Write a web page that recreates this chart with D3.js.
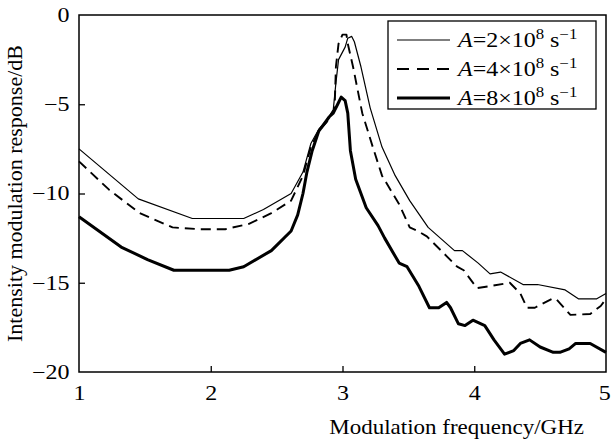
<!DOCTYPE html>
<html>
<head>
<meta charset="utf-8">
<script src="https://cdn.jsdelivr.net/npm/d3@7"></script>
<style>
  body { margin: 0; background: #fff; }
  svg text { font-family: "Liberation Serif", "Times New Roman", serif; fill: #000; }
</style>
</head>
<body>
<svg width="611" height="444"></svg>
<script>
// series A = 2e8 s^-1 (thin)
const freqA2 = [1.0,1.45,1.86,2.25,2.4,2.61,2.7,2.76,2.82,2.88,2.93,2.95,2.97,3.02,3.04,3.07,3.09,3.14,3.21,3.3,3.4,3.51,3.65,3.85,3.91,4.03,4.12,4.2,4.37,4.48,4.69,4.79,4.93,5.0];
const respA2 = [-7.5,-10.3,-11.4,-11.4,-10.9,-10.0,-8.8,-7.2,-6.4,-5.9,-5.3,-3.8,-2.5,-1.8,-1.3,-1.2,-1.5,-2.9,-5.2,-7.4,-9.0,-10.4,-11.9,-13.2,-13.2,-13.9,-14.5,-14.4,-15.1,-15.1,-15.4,-15.9,-15.9,-15.6];
// series A = 4e8 s^-1 (dashed)
const freqA4 = [1.0,1.23,1.46,1.71,1.91,2.11,2.29,2.46,2.61,2.7,2.76,2.82,2.88,2.91,2.94,2.95,2.97,3.0,3.03,3.04,3.08,3.15,3.23,3.3,3.43,3.51,3.57,3.64,3.87,3.92,4.02,4.11,4.27,4.35,4.4,4.46,4.59,4.62,4.73,4.88,4.96,5.0];
const respA4 = [-8.2,-9.8,-11.1,-11.9,-12.0,-12.0,-11.7,-11.1,-10.4,-9.0,-7.4,-6.5,-6.0,-5.6,-5.3,-2.9,-1.6,-1.1,-1.1,-1.6,-2.9,-5.5,-7.4,-9.0,-10.6,-11.9,-12.1,-12.4,-14.1,-14.3,-15.3,-15.2,-15.0,-15.6,-16.4,-16.4,-15.9,-15.9,-16.8,-16.75,-16.3,-15.9];
// series A = 8e8 s^-1 (bold)
const freqA8 = [1.0,1.32,1.52,1.72,2.14,2.25,2.46,2.61,2.66,2.7,2.73,2.77,2.82,2.9,2.93,2.97,2.99,3.02,3.04,3.06,3.1,3.18,3.27,3.32,3.43,3.49,3.58,3.66,3.73,3.79,3.82,3.88,3.93,3.99,4.08,4.15,4.23,4.3,4.35,4.42,4.5,4.6,4.65,4.72,4.77,4.88,5.0];
const respA8 = [-11.3,-13.0,-13.7,-14.3,-14.3,-14.1,-13.2,-12.1,-11.2,-10.0,-8.8,-7.6,-6.5,-5.7,-5.5,-4.9,-4.6,-4.8,-5.5,-7.6,-9.2,-10.8,-11.8,-12.5,-13.9,-14.1,-15.2,-16.4,-16.4,-16.1,-16.4,-17.3,-17.4,-17.1,-17.4,-18.2,-19.0,-18.8,-18.4,-18.2,-18.6,-18.9,-18.9,-18.7,-18.4,-18.4,-18.9];

const legendMant = ["2", "4", "8"];
const xTicks = [1, 2, 3, 4, 5];
const yTicks = [0, -5, -10, -15, -20];

const svg = d3.select("svg");
const mLeft = 79, mRight = 606, mTop = 15, mBottom = 372;
const stretch = 1.2; // the source glyphs are a bit wider than they are tall

const x = d3.scaleLinear().domain([1, 5]).range([mLeft, mRight]);
const y = d3.scaleLinear().domain([-20, 0]).range([mBottom, mTop]);

// axes with inward ticks
const xAxis = svg.append("g").attr("transform", "translate(0," + mBottom + ")")
  .call(d3.axisBottom(x).tickValues(xTicks).tickFormat(d3.format("d")).tickSizeInner(-6).tickSizeOuter(0).tickPadding(14));
const yAxis = svg.append("g").attr("transform", "translate(" + mLeft + ",0)")
  .call(d3.axisLeft(y).tickValues(yTicks).tickFormat(d3.format("d")).tickSizeInner(-6).tickSizeOuter(0).tickPadding(8));

[xAxis, yAxis].forEach(a => {
  a.select(".domain").remove();
  a.selectAll("line").attr("stroke", "#000").attr("stroke-width", 1.3);
  a.selectAll("text")
    .style("font-size", "20px")
    .style("font-family", "Liberation Serif")
    .attr("transform", "scale(" + stretch + ",1)");
});
xAxis.selectAll(".tick").filter(d => d === 1 || d === 5).select("line").remove();
yAxis.selectAll(".tick").filter(d => d === 0 || d === -20).select("line").remove();
// keep the last label inside the page
xAxis.selectAll(".tick").filter(d => d === 5).select("text")
  .attr("text-anchor", "end").attr("x", 3.5);

// frame
svg.append("rect")
  .attr("x", mLeft).attr("y", mTop)
  .attr("width", mRight - mLeft).attr("height", mBottom - mTop)
  .attr("fill", "none").attr("stroke", "#000").attr("stroke-width", 1.5);

const line = d3.line().x(d => x(d[0])).y(d => y(d[1]));
const series = [
  { f: freqA2, r: respA2, w: 1.2, dash: null },
  { f: freqA4, r: respA4, w: 1.9, dash: "10,6" },
  { f: freqA8, r: respA8, w: 3, dash: null }
];
series.forEach(s => {
  svg.append("path")
    .datum(d3.zip(s.f, s.r))
    .attr("d", line)
    .attr("fill", "none")
    .attr("stroke", "#000")
    .attr("stroke-width", s.w)
    .attr("stroke-linejoin", "round")
    .attr("stroke-dasharray", s.dash);
});

// legend
const lg = svg.append("g");
lg.append("rect").attr("x", 388).attr("y", 21).attr("width", 208).attr("height", 88)
  .attr("fill", "#fff").attr("stroke", "#000").attr("stroke-width", 1.3);
series.forEach((s, i) => {
  const ly = 40 + i * 29;
  lg.append("line").attr("x1", 397).attr("x2", 450).attr("y1", ly).attr("y2", ly)
    .attr("stroke", "#000").attr("stroke-width", s.w)
    .attr("stroke-dasharray", s.dash ? "12,8" : null);
  const t = lg.append("text")
    .attr("transform", "translate(458," + (ly + 7) + ") scale(" + stretch + ",1)")
    .style("font-size", "20px");
  t.append("tspan").style("font-style", "italic").text("A");
  t.append("tspan").text("=" + legendMant[i] + "\u00d710");
  t.append("tspan").attr("dy", -8).style("font-size", "14px").text("8");
  t.append("tspan").attr("dy", 8).text(" s");
  t.append("tspan").attr("dy", -8).style("font-size", "14px").text("\u22121");
});

// axis titles
svg.append("text")
  .attr("transform", "translate(22," + ((mTop + mBottom) / 2) + ") rotate(-90)")
  .attr("text-anchor", "middle")
  .style("font-size", "22px")
  .text("Intensity modulation response/dB");
svg.append("text")
  .attr("transform", "translate(584,434) scale(1.15,1)")
  .attr("text-anchor", "end")
  .style("font-size", "20px")
  .text("Modulation frequency/GHz");
</script>
</body>
</html>
